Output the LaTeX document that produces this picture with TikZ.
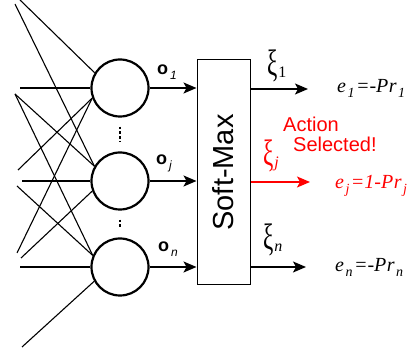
\documentclass[tikz,border=0pt]{standalone}
\usepackage{fontspec}
\usepackage{graphicx}
\setmainfont{Liberation Serif}
\setsansfont{Liberation Sans}
\usetikzlibrary{arrows.meta}
\definecolor{selred}{RGB}{255,0,0}
\newcommand{\fs}[1]{\fontsize{#1}{#1}\selectfont}
\newcommand{\osub}[1]{\hspace{2pt}\raisebox{-5pt}{\fs{12}\mdseries\itshape #1}}
\newcommand{\xib}{\scalebox{1.1}[1.75]{\fs{21}ξ}}
\newcommand{\xsub}[1]{\hspace{1pt}\raisebox{-2pt}{\fs{16}#1}}
\newcommand{\esub}[1]{\hspace{1.5pt}\raisebox{-5pt}{\fs{14}#1}}
\begin{document}
\begin{tikzpicture}[x=1pt,y=-1pt,
  neuron/.style={circle,draw,line width=2.2pt,minimum size=57pt,inner sep=0pt},
  wire/.style={line width=1.1pt},
  arr/.style={line width=1.3pt,-{Stealth[length=13pt,width=11pt,inset=3pt]}},
  olab/.style={font=\sffamily\bfseries\fs{18},inner sep=0pt,anchor=base west},
  xlab/.style={inner sep=0pt,anchor=base west},
  elab/.style={font=\itshape\fs{20},inner sep=0pt,anchor=base west},
  redtxt/.style={font=\sffamily\fs{20},text=selred,inner sep=0pt,anchor=base west},
  dots/.style={line width=2.4pt,dash pattern=on 2.4pt off 2.4pt}
]
\useasboundingbox (0,0) rectangle (413,352);
% neurons
\node[neuron] (c1) at (120,88) {};
\node[neuron] (c2) at (120,181) {};
\node[neuron] (c3) at (120,267) {};
% dots between neurons
\draw[dots] ([yshift=-9pt]c1.south) -- ([yshift=9pt]c2.north);
\draw[dots] ([yshift=-9pt]c2.south) -- ([yshift=9pt]c3.north);
% input ends
\coordinate (a1) at (20,0);
\coordinate (a2) at (15,4);
\coordinate (b1) at (20,88);
\coordinate (b2) at (15,94);
\coordinate (d1) at (18,170);
\coordinate (d2) at (22,181);
\coordinate (d3) at (17,186);
\coordinate (g1) at (17,253);
\coordinate (g2) at (21,258);
\coordinate (h1) at (20,267);
\coordinate (k1) at (22,347);
% input wires
\draw[wire] (a1) -- (c1.149);
\draw[wire] (b1) -- (c1.west);
\draw[wire] (d1) -- (c1.200);
\draw[wire] (g1) -- (c1.200);
\draw[wire] (a2) -- (c2.150);
\draw[wire] (b2) -- (c2.150);
\draw[wire] (d2) -- (c2.west);
\draw[wire] (g2) -- (c2.200);
\draw[wire] (b2) -- (c3.157);
\draw[wire] (d3) -- (c3.157);
\draw[wire] (h1) -- (c3.west);
\draw[wire] (k1) -- (c3.209);
% soft-max box
\node[draw,line width=1pt,minimum width=53pt,minimum height=225pt,inner sep=0pt] (sm) at (223.5,172.5) {};
\node[rotate=90,font=\sffamily\fs{29},inner sep=0pt] (smt) at (sm.center) {Soft-Max};
% neuron outputs
\draw[arr] (c1.east) -- (c1.east -| sm.west);
\draw[arr] (c2.east) -- (c2.east -| sm.west);
\draw[arr] (c3.east) -- (c3.east -| sm.west);
\node[olab] (o1) at (157,75) {o\osub{1}};
\node[olab] (oj) at (156,165) {o\osub{j}};
\node[olab] (on) at (158,252) {o\osub{n}};
% soft-max outputs
\coordinate (t1) at (308,89);
\coordinate (tj) at (310,182);
\coordinate (tn) at (306,267);
\draw[arr] (t1 -| sm.east) -- (t1);
\draw[arr,selred] (tj -| sm.east) -- (tj);
\draw[arr] (tn -| sm.east) -- (tn);
\node[xlab] (x1) at (267,76) {\xib\xsub{1}};
\node[xlab,text=selred] (xj) at (263,166) {\xib\xsub{\itshape j}};
\node[xlab] (xn) at (263,250) {\xib\xsub{\itshape n}};
\node[redtxt] (act) at (283,132) {Action};
\node[redtxt] (sel) at (293,152) {Selected!};
% errors
\node[elab] (e1) at (337,93) {e\esub{1}\hspace{1.5pt}=-P\hspace{0.5pt}r\esub{1}};
\node[elab,text=selred] (ej) at (335,189) {e\esub{j}\hspace{1.5pt}=1-P\hspace{0.5pt}r\esub{j}};
\node[elab] (en) at (335,272) {e\esub{n}\hspace{1.5pt}=-P\hspace{0.5pt}r\esub{n}};
\end{tikzpicture}
\end{document}
